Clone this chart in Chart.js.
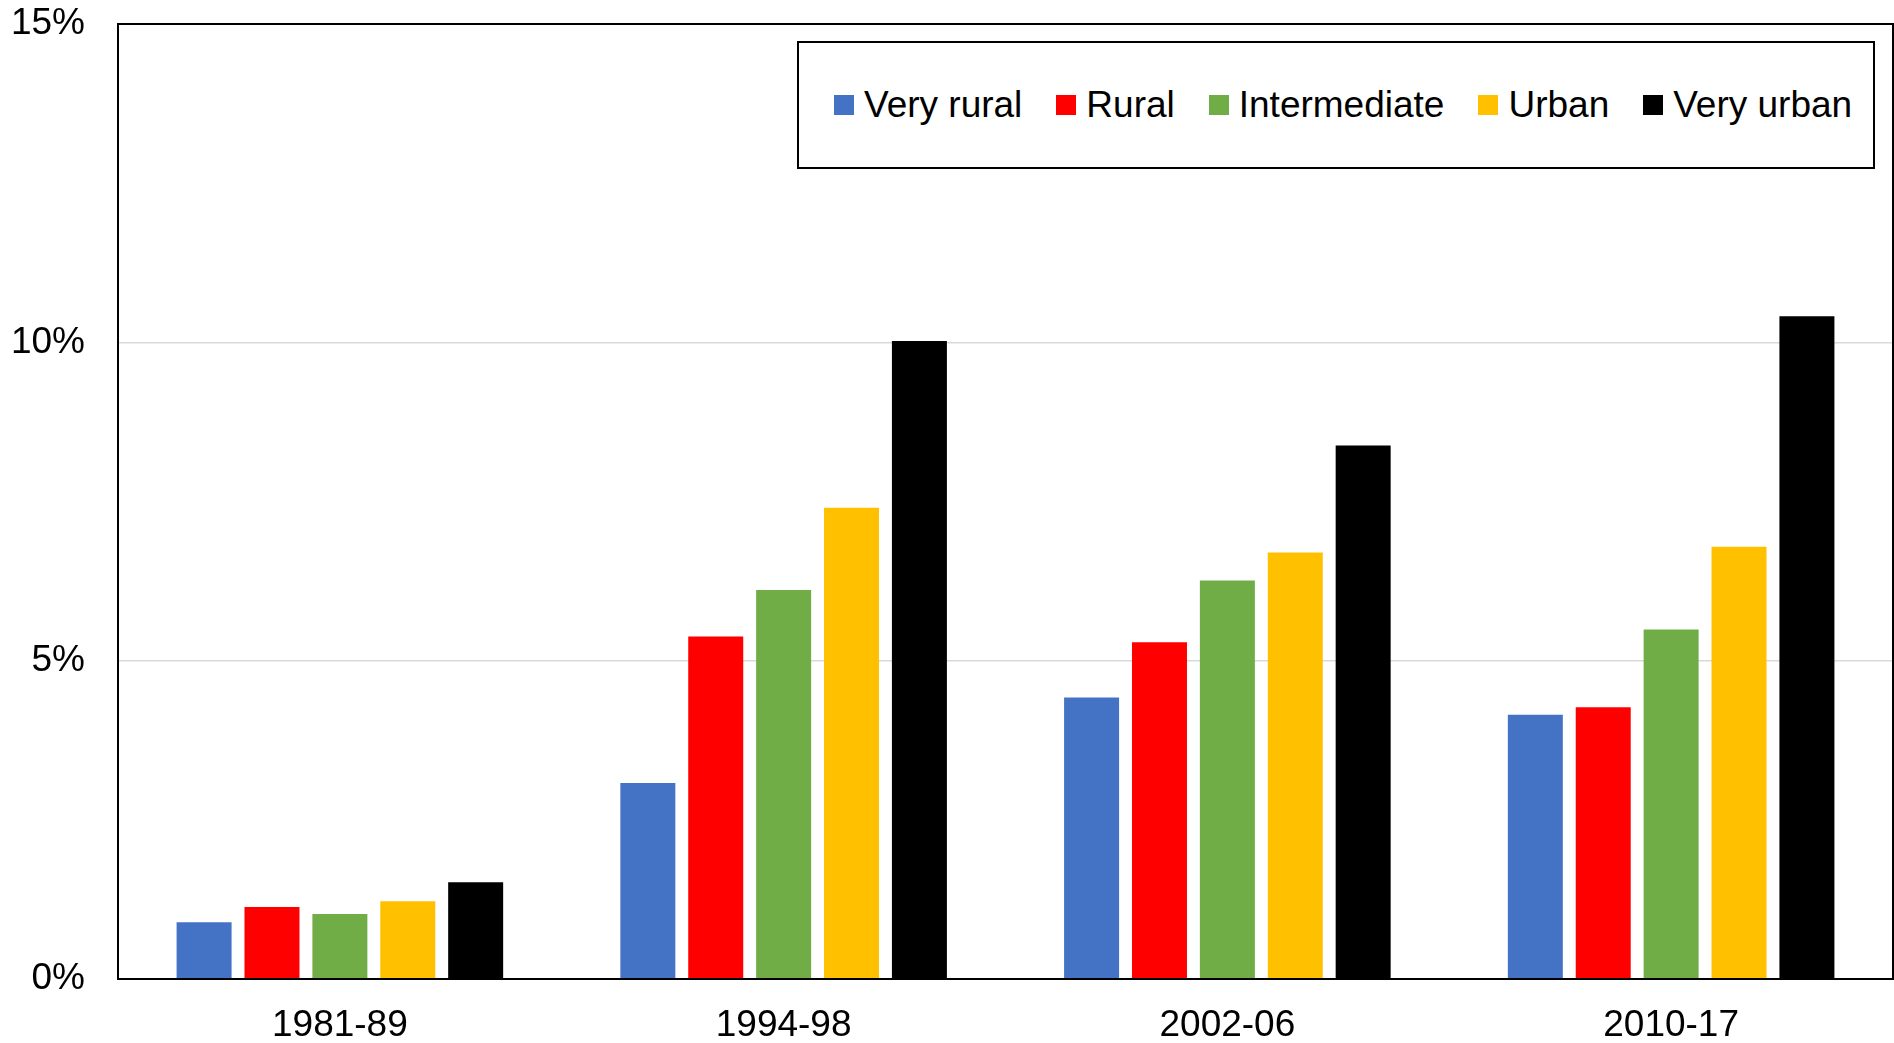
<!DOCTYPE html>
<html>
<head>
<meta charset="utf-8">
<script src="https://cdn.jsdelivr.net/npm/chart.js"></script>
<style>
    body { margin: 0; background: #fff; }
    #wrap { position: relative; width: 1894px; height: 1043px; }
    #legend {
        position: absolute; left: 797px; top: 41px; width: 1078px; height: 128px;
        box-sizing: border-box; border: 2px solid #000; background: #fff;
        display: flex; align-items: center; padding-left: 35px;
        font-family: "Liberation Sans", Arial, sans-serif; font-size: 37px; color: #000;
    }
    #legend .item { display: flex; align-items: center; margin-right: 34px; white-space: nowrap; }
    #legend .box { width: 20px; height: 20px; margin-right: 10px; }
</style>
</head>
<body>
<div id="wrap">
    <canvas id="regions" width="1894" height="1043"></canvas>
    <div id="legend"></div>
</div>
<script>
var categories = ["1981-89", "1994-98", "2002-06", "2010-17"];
var seriesNames = ["Very rural", "Rural", "Intermediate", "Urban", "Very urban"];
var veryRural    = [0.89, 3.08, 4.42, 4.15];
var rural        = [1.13, 5.38, 5.29, 4.27];
var intermediate = [1.02, 6.11, 6.26, 5.49];
var urban        = [1.22, 7.40, 6.70, 6.79];
var veryUrban    = [1.52, 10.02, 8.38, 10.41];
var yTicks = [0, 5, 10, 15];

var colors = {
    blue   : "#4472C4",
    red    : "#FF0000",
    green  : "#70AD47",
    yellow : "#FFC000",
    black  : "#000000"
};

var seriesValues = [veryRural, rural, intermediate, urban, veryUrban];
var seriesColors = [colors.blue, colors.red, colors.green, colors.yellow, colors.black];

var datasets = seriesNames.map(function(name, i) {
    return {
        label: name,
        data: seriesValues[i],
        backgroundColor: seriesColors[i],
        borderWidth: 0,
        categoryPercentage: 0.765,
        barPercentage: 0.81
    };
});

// frame round the plot area
var frame = {
    id: 'frame',
    afterDraw: function(chart) {
        var a = chart.chartArea, ctx = chart.ctx;
        ctx.save();
        ctx.strokeStyle = '#000';
        ctx.lineWidth = 2;
        ctx.strokeRect(a.left, a.top, a.right - a.left, a.bottom - a.top);
        ctx.restore();
    }
};

var tickFont = { family: "'Liberation Sans', Arial, sans-serif", size: 37 };

var config = {
    type: 'bar',
    data: { labels: categories, datasets: datasets },
    options: {
        responsive: false,
        animation: false,
        layout: { padding: { top: 24, right: 1, bottom: 0, left: 0 } },
        plugins: {
            legend: { display: false },
            tooltip: { enabled: false }
        },
        scales: {
            x: {
                grid: { display: false },
                border: { display: false },
                ticks: { font: tickFont, color: '#000', padding: 17, maxRotation: 0 },
                afterFit: function(scale) { scale.height = 64; }
            },
            y: {
                min: 0,
                max: 15,
                afterBuildTicks: function(scale) {
                    scale.ticks = yTicks.map(function(v) { return { value: v }; });
                },
                grid: {
                    drawTicks: false,
                    lineWidth: 1.5,
                    color: function(c) {
                        var v = c.tick ? c.tick.value : 0;
                        return (v === 0 || v === 15) ? 'rgba(0,0,0,0)' : '#D9D9D9';
                    }
                },
                border: { display: false },
                ticks: {
                    font: tickFont,
                    color: '#000',
                    padding: 33,
                    callback: function(v) { return v + '%'; }
                },
                afterFit: function(scale) {
                    scale.width = 118;
                    scale.paddingTop = 0;
                    scale.paddingBottom = 0;
                }
            }
        }
    },
    plugins: [frame]
};

window.onload = function() {
    var ctx = document.getElementById("regions").getContext("2d");
    window.regionsChart = new Chart(ctx, config);

    var legend = document.getElementById("legend");
    window.regionsChart.data.datasets.forEach(function(ds) {
        var item = document.createElement("div");
        item.className = "item";
        var box = document.createElement("span");
        box.className = "box";
        box.style.background = ds.backgroundColor;
        var txt = document.createElement("span");
        txt.textContent = ds.label;
        item.appendChild(box);
        item.appendChild(txt);
        legend.appendChild(item);
    });
};
</script>
</body>
</html>
